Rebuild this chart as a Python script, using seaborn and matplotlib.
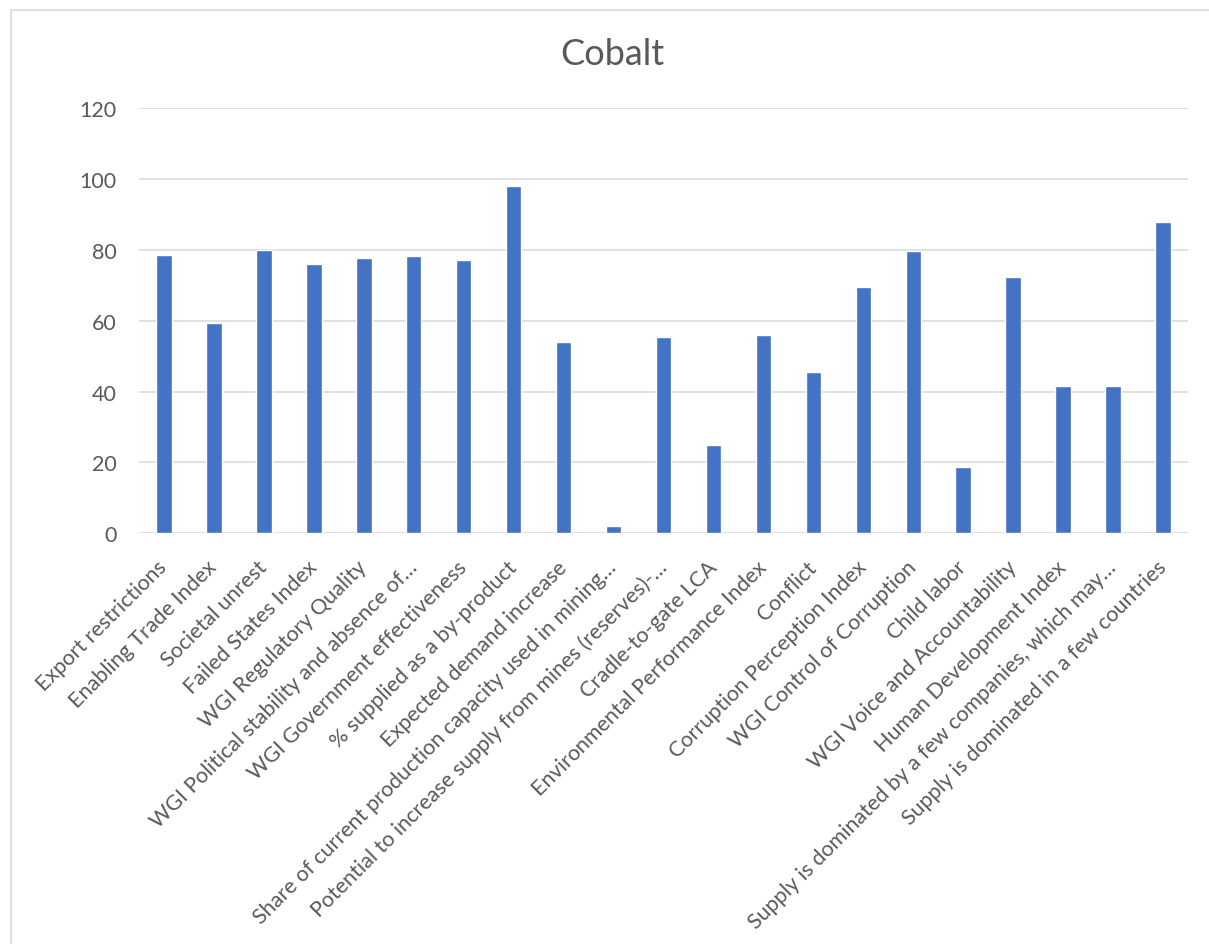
import matplotlib
matplotlib.use("Agg")
import matplotlib.pyplot as plt
from matplotlib.lines import Line2D
import seaborn as sns
import pandas as pd

# Indicator names (long ones are shortened with an ellipsis as on the axis)
categories = [
    "Export restrictions",
    "Enabling Trade Index",
    "Societal unrest",
    "Failed States Index",
    "WGI Regulatory Quality",
    "WGI Political stability and absence of\u2026",
    "WGI Government effectiveness",
    "% supplied as a by-product",
    "Expected demand increase",
    "Share of current production capacity used in mining\u2026",
    "Potential to increase supply from mines (reserves)-\u2026",
    "Cradle-to-gate LCA",
    "Environmental Performance Index",
    "Conflict",
    "Corruption Perception Index",
    "WGI Control of Corruption",
    "Child labor",
    "WGI Voice and Accountability",
    "Human Development Index",
    "Supply is dominated by a few companies, which may\u2026",
    "Supply is dominated in a few countries",
]

# Score for each indicator
scores = [78.5, 59.3, 80.0, 76.0, 77.6, 78.2, 77.1, 98.0, 54.0, 2.1, 55.5,
          25.0, 56.0, 45.6, 69.5, 79.7, 18.7, 72.5, 41.6, 41.5, 87.9]

y_ticks = [0, 20, 40, 60, 80, 100, 120]

BAR_COLOR = "#4472C4"
TEXT_COLOR = "#595959"
GRID_COLOR = "#D9D9D9"

sns.set_theme(style="white")
plt.rcParams["font.family"] = ["Lato", "DejaVu Sans"]

df = pd.DataFrame({"indicator": categories, "score": scores})

fig = plt.figure(figsize=(12.09, 9.45), dpi=100)
ax = fig.add_axes([139 / 1209, 1 - 534.3 / 945, (1188 - 139) / 1209, (534.3 - 109.3) / 945])

sns.barplot(data=df, x="indicator", y="score", color=BAR_COLOR, width=0.31,
            saturation=1, ax=ax, zorder=3)

ax.set_ylim(0, 120)
ax.set_xlim(-0.5, len(categories) - 0.5)
ax.set_yticks(y_ticks)
ax.set_yticklabels([str(v) for v in y_ticks])
ax.set_xlabel("")
ax.set_ylabel("")

for s in ax.spines.values():
    s.set_visible(False)

ax.yaxis.grid(True, color=GRID_COLOR, linewidth=1.1, zorder=0)
ax.xaxis.grid(False)
ax.set_axisbelow(True)

ax.tick_params(axis="y", length=0, pad=16, labelsize=15.5, labelcolor=TEXT_COLOR)
ax.tick_params(axis="x", length=0, pad=22, labelsize=15.5, labelcolor=TEXT_COLOR)
for lbl in ax.get_xticklabels():
    lbl.set_rotation(45)
    lbl.set_ha("right")
    lbl.set_va("center")
    lbl.set_rotation_mode("anchor")

fig.text(612 / 1209, 1 - 55 / 945, "Cobalt", ha="center", va="center",
         fontsize=26, color=TEXT_COLOR)

# Chart-area frame (top and left edges)
fig.add_artist(Line2D([11 / 1209, 1], [1 - 10.7 / 945] * 2, transform=fig.transFigure,
                      color=GRID_COLOR, linewidth=1.2))
fig.add_artist(Line2D([11 / 1209] * 2, [0, 1 - 10.7 / 945], transform=fig.transFigure,
                      color=GRID_COLOR, linewidth=1.2))

fig.savefig("out.png", dpi=100, facecolor="white")
